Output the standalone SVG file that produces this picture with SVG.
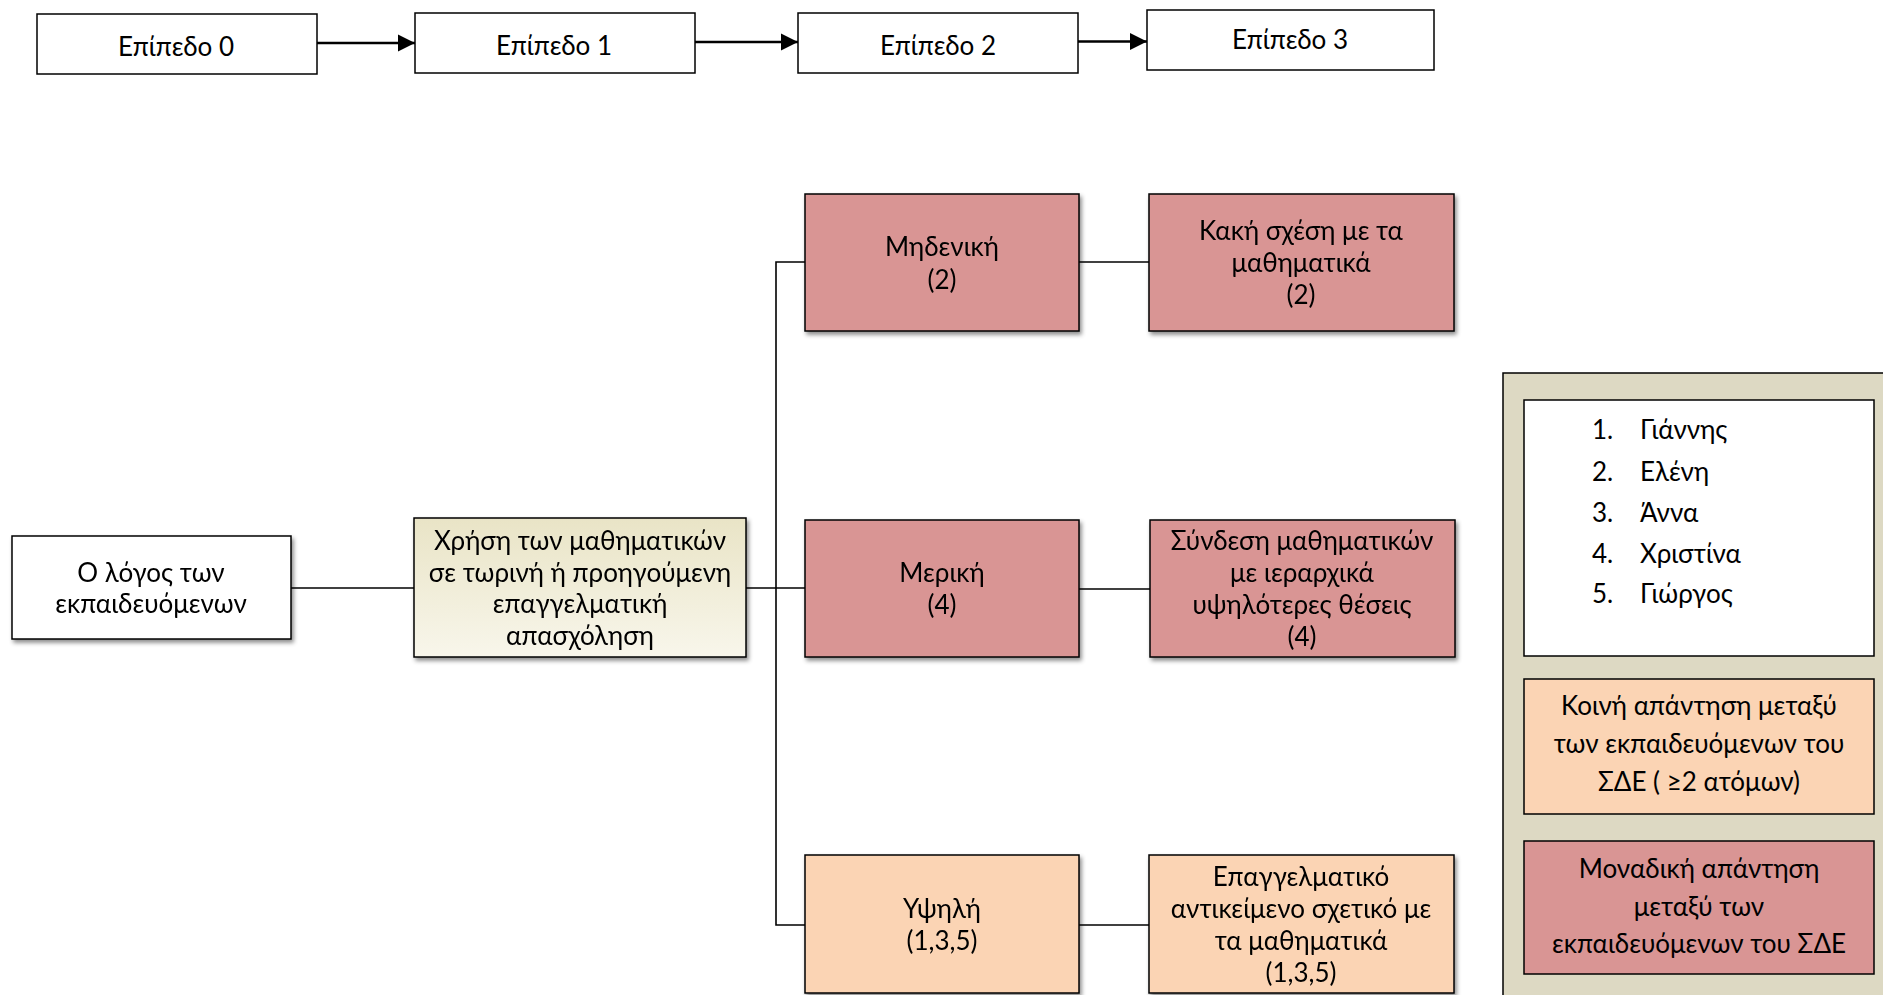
<svg xmlns="http://www.w3.org/2000/svg" width="1883" height="995" viewBox="0 0 1883 995">
  <defs>
    <style>
      text { font-family: Lato, "Noto Sans", sans-serif; font-size: 26px; fill: #000; text-anchor: middle; dominant-baseline: central; }
      .box { stroke: #000; stroke-width: 1.5; }
      .plain { fill: #fff; }
      .red { fill: #D99594; }
      .peach { fill: #FBD4B4; }
      .conn { stroke: #000; stroke-width: 1.6; fill: none; }
      .arrow { stroke: #000; stroke-width: 2.6; fill: none; }
      .legend-item { text-anchor: start; }
    </style>
    <marker id="head" markerUnits="userSpaceOnUse" markerWidth="18" markerHeight="18" refX="17" refY="9" orient="auto">
      <path d="M0,0.5 L17,9 L0,17.5 Z" fill="#000"/>
    </marker>
    <linearGradient id="beige" x1="0" y1="0" x2="0" y2="1">
      <stop offset="0" stop-color="#E9E4C6"/>
      <stop offset="1" stop-color="#F8F6EB"/>
    </linearGradient>
    <filter id="shadow" x="-10%" y="-10%" width="125%" height="130%">
      <feDropShadow dx="2" dy="3" stdDeviation="2" flood-color="#000" flood-opacity="0.45"/>
    </filter>
  </defs>

  <rect width="1883" height="995" fill="#fff"/>

  <!-- level header row -->
  <g id="level0">
    <rect class="box plain" x="37" y="14" width="280" height="60"/>
    <text x="176" y="45.5">Επίπεδο 0</text>
  </g>
  <g id="level1">
    <rect class="box plain" x="415" y="13" width="280" height="60"/>
    <text x="554" y="45">Επίπεδο 1</text>
  </g>
  <g id="level2">
    <rect class="box plain" x="798" y="13" width="280" height="60"/>
    <text x="938" y="45">Επίπεδο 2</text>
  </g>
  <g id="level3">
    <rect class="box plain" x="1147" y="10" width="287" height="60"/>
    <text x="1290" y="38.5">Επίπεδο 3</text>
  </g>

  <!-- connectors -->
  <g id="connectors">
    <line class="arrow" x1="317" y1="43" x2="415" y2="43" marker-end="url(#head)"/>
    <line class="arrow" x1="695" y1="42" x2="798" y2="42" marker-end="url(#head)"/>
    <line class="arrow" x1="1078" y1="41.5" x2="1147" y2="41.5" marker-end="url(#head)"/>

    <line class="conn" x1="291" y1="588" x2="414" y2="588"/>
    <line class="conn" x1="746" y1="588" x2="805" y2="588"/>
    <polyline class="conn" points="805,262 776,262 776,925 805,925"/>
    <line class="conn" x1="1078" y1="262" x2="1149" y2="262"/>
    <line class="conn" x1="1078" y1="589" x2="1150" y2="589"/>
    <line class="conn" x1="1078" y1="925" x2="1149" y2="925"/>
  </g>

  <!-- tree nodes -->
  <g id="root" filter="url(#shadow)">
    <rect class="box plain" x="12" y="536" width="279" height="103"/>
    <text x="151" y="572">Ο λόγος των</text>
    <text x="151" y="603">εκπαιδευόμενων</text>
  </g>
  <g id="usage" filter="url(#shadow)">
    <rect class="box" fill="url(#beige)" x="414" y="518" width="332" height="139"/>
    <text x="580" y="540">Χρήση των μαθηματικών</text>
    <text x="580" y="572">σε τωρινή ή προηγούμενη</text>
    <text x="580" y="603">επαγγελματική</text>
    <text x="580" y="635">απασχόληση</text>
  </g>
  <g id="none" filter="url(#shadow)">
    <rect class="box red" x="805" y="194" width="274" height="137"/>
    <text x="942" y="246">Μηδενική</text>
    <text x="942" y="279">(2)</text>
  </g>
  <g id="bad-relation" filter="url(#shadow)">
    <rect class="box red" x="1149" y="194" width="305" height="137"/>
    <text x="1301" y="230">Κακή σχέση με τα</text>
    <text x="1301" y="262">μαθηματικά</text>
    <text x="1301" y="294">(2)</text>
  </g>
  <g id="partial" filter="url(#shadow)">
    <rect class="box red" x="805" y="520" width="274" height="137"/>
    <text x="942" y="572">Μερική</text>
    <text x="942" y="604">(4)</text>
  </g>
  <g id="higher-positions" filter="url(#shadow)">
    <rect class="box red" x="1150" y="520" width="305" height="137"/>
    <text x="1302" y="540">Σύνδεση μαθηματικών</text>
    <text x="1302" y="572">με ιεραρχικά</text>
    <text x="1302" y="604">υψηλότερες θέσεις</text>
    <text x="1302" y="636">(4)</text>
  </g>
  <g id="high" filter="url(#shadow)">
    <rect class="box peach" x="805" y="855" width="274" height="138"/>
    <text x="942" y="908">Υψηλή</text>
    <text x="942" y="940">(1,3,5)</text>
  </g>
  <g id="related-job" filter="url(#shadow)">
    <rect class="box peach" x="1149" y="855" width="305" height="138"/>
    <text x="1301" y="876">Επαγγελματικό</text>
    <text x="1301" y="908">αντικείμενο σχετικό με</text>
    <text x="1301" y="940">τα μαθηματικά</text>
    <text x="1301" y="972">(1,3,5)</text>
  </g>

  <!-- legend panel -->
  <g id="legend">
    <rect class="box" fill="#DDD9C3" x="1503" y="373" width="400" height="640"/>
    <g id="legend-names">
      <rect class="box plain" x="1524" y="400" width="350" height="256"/>
      <text class="legend-item" x="1592" y="429">1.</text>
      <text class="legend-item" x="1640" y="429">Γιάννης</text>
      <text class="legend-item" x="1592" y="471">2.</text>
      <text class="legend-item" x="1640" y="471">Ελένη</text>
      <text class="legend-item" x="1592" y="512">3.</text>
      <text class="legend-item" x="1640" y="512">Άννα</text>
      <text class="legend-item" x="1592" y="553">4.</text>
      <text class="legend-item" x="1640" y="553">Χριστίνα</text>
      <text class="legend-item" x="1592" y="593">5.</text>
      <text class="legend-item" x="1640" y="593">Γιώργος</text>
    </g>
    <g id="legend-common">
      <rect class="box peach" x="1524" y="679" width="350" height="135"/>
      <text x="1699" y="705">Κοινή απάντηση μεταξύ</text>
      <text x="1699" y="743">των εκπαιδευόμενων του</text>
      <text x="1699" y="781">ΣΔΕ ( ≥2 ατόμων)</text>
    </g>
    <g id="legend-unique">
      <rect class="box red" x="1524" y="841" width="350" height="133"/>
      <text x="1699" y="868">Μοναδική απάντηση</text>
      <text x="1699" y="906">μεταξύ των</text>
      <text x="1699" y="943">εκπαιδευόμενων του ΣΔΕ</text>
    </g>
  </g>
</svg>
